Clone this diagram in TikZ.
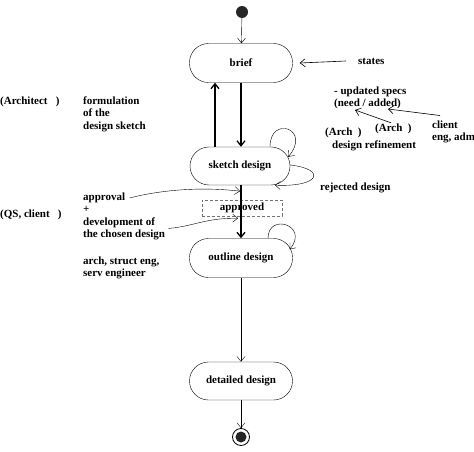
\documentclass[tikz,border=0pt]{standalone}
\usepackage{fontspec}
\setmainfont{Liberation Serif}
\usetikzlibrary{arrows.meta}

\begin{document}
\begin{tikzpicture}[x=1pt, y=-1pt, >={Straight Barb[length=5pt,width=8pt]},
	font=\fontsize{11}{12.5}\selectfont\bfseries,
	state/.style={draw, rounded corners=19pt, minimum width=103pt, minimum height=39pt, inner sep=0pt},
	note/.style={align=left, anchor=west, inner sep=0pt},
	flow/.style={line width=1.3pt}]
	\useasboundingbox (0,0) rectangle (474,452);
	% states
	\path
		(242,12) node[circle, fill=black!85, minimum size=12pt, inner sep=0pt] (start) {}
		(241,63) node[state] (brief) {brief}
		(240,166) node[state, minimum width=100pt, minimum height=38pt] (sketch) {sketch design}
		(242,208) node[draw, black!55, text=black, dash pattern=on 3pt off 2pt, minimum width=80pt, minimum height=16pt, inner sep=0pt] (approved) {approved}
		(241,258) node[state] (outline) {outline design}
		(241,381) node[state, minimum height=38pt] (detailed) {detailed design}
		(241,437) node[circle, draw, line width=.8pt, minimum size=17pt, inner sep=0pt] (end) {}
		(241,437) node[circle, fill=black!85, minimum size=11pt, inner sep=0pt] (endcore) {}
	;
	% texts
	\path
		(358,61) node[note] (states) {states}
		(334,98) node[note] (specs) {- updated specs\\(need / added)}
		(325,133) node[note] (archa) {(Arch~~)}
		(375,129) node[note] (archb) {(Arch~~)}
		(332,146) node[note] (refine) {design refinement}
		(432,132) node[note] (client) {client\\eng, adm}
		(320,188) node[note] (rejected) {rejected design}
		(0,102) node[note] (architect) {(Architect~~~)}
		(83,114) node[note] (formulation) {formulation\\of the\\design sketch}
		(0,215) node[note] (qs) {(QS, client~~~)}
		(83,198) node[note] (approval) {approval}
		(83,223.5) node[note] (develop) {+\\development of\\the chosen design}
		(83,268) node[note] (team) {arch, struct eng,\\serv engineer}
		([yshift=-6pt]sketch.south) coordinate (approvaltip)
		([xshift=-2pt,yshift=-33pt]sketch.south) coordinate (developtip)
		(388,109) coordinate (addedtip)
		(355,110) coordinate (needtip)
	;
	% transitions
	\draw[->] (start) -- (brief);
	\draw[->, flow] (brief.south) -- (brief.south |- sketch.north);
	\draw[<-, flow] ([xshift=-26pt]brief.south) -- ([xshift=-26pt]brief.south |- sketch.north);
	\draw[->, flow] (outline.north |- sketch.south) -- (outline.north);
	\draw[->] (outline) -- (detailed);
	\draw[->] (detailed) -- (end);
	\draw[->] ([xshift=30pt]sketch.north) .. controls +(0,-32) and +(24,-28) .. ([xshift=-2pt,yshift=-10pt]sketch.north east);
	\draw[->] ([yshift=1pt]sketch.east) .. controls +(36,4) and +(46,2) .. ([xshift=35pt]sketch.south);
	\draw[->] ([xshift=27pt]outline.north) .. controls +(0,-26) and +(20,-24) .. ([xshift=-3pt,yshift=-11pt]outline.north east);
	% pointers
	\draw[->, semithick] ([xshift=-12pt]states.west) -- ([xshift=7pt]brief.east);
	\draw[->, semithick] ([xshift=8pt,yshift=5pt]client.north west) -- (addedtip);
	\draw[->, semithick] ([xshift=16pt,yshift=1pt]archb.north west) -- (needtip);
	\draw[->] ([xshift=4pt]approval.east) .. controls (165,189) and (205,187) .. (approvaltip);
	\draw[->] ([xshift=3pt,yshift=-5pt]develop.east) .. controls (195,226) and (205,218) .. (developtip);
\end{tikzpicture}
\end{document}
